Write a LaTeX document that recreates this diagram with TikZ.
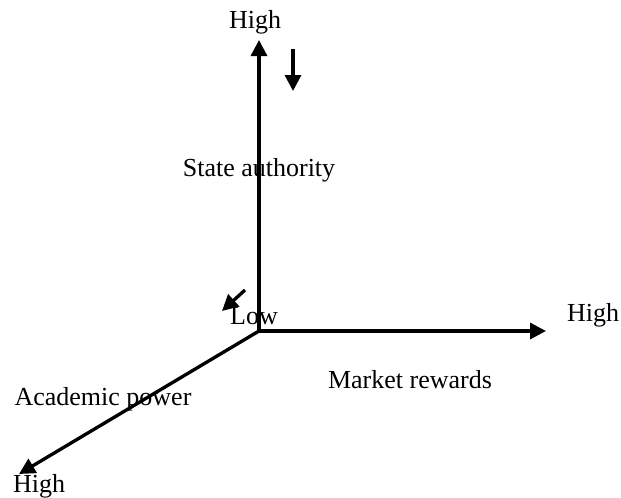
\documentclass[tikz,border=0pt]{standalone}
\usepackage{fontspec}
\setmainfont{Liberation Serif}
\usetikzlibrary{arrows.meta}
\begin{document}
\begin{tikzpicture}[x=0.75pt,y=-0.75pt,
  axis/.style={line width=2.5pt,-{Triangle[length=12pt,width=12pt]}},
  small/.style={line width=2.5pt,-{Triangle[length=12pt,width=12pt]}},
  lbl/.style={inner sep=0pt,font=\fontsize{19.5}{22}\selectfont}]
\useasboundingbox (0,0) rectangle (621,497);
\coordinate (o) at (259,331);
\coordinate (top) at (259,40);
\coordinate (right) at (546,331);
\coordinate (bl) at (19,474);
\draw[axis] (o) -- (top);
\draw[axis] (o) -- (right);
\draw[axis] (o) -- (bl);
\coordinate (s1) at (293,49);
\coordinate (s2) at (293,91);
\draw[small] (s1) -- (s2);
\coordinate (d1) at (245,290);
\coordinate (d2) at (222,311);
\draw[small] (d1) -- (d2);
\node[lbl] (hightop) at (255,22) {High};
\node[lbl] (highright) at (593,315) {High};
\node[lbl] (highbl) at (39,486) {High};
\node[lbl] (low) at (254,316) {Low};
\node[lbl] (state) at (259,170) {State authority};
\node[lbl] (market) at (410,380) {Market rewards};
\node[lbl] (academic) at (103,399) {Academic power};
\end{tikzpicture}
\end{document}
